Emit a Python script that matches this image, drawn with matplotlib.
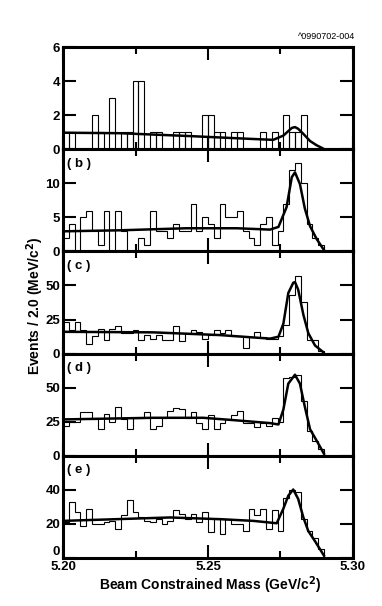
import numpy as np
import matplotlib.pyplot as plt

plt.rcParams['font.family'] = ['Liberation Sans Narrow', 'Liberation Sans', 'DejaVu Sans']
plt.rcParams['font.weight'] = 'bold'

# 2 MeV bins from 5.20 to 5.30 GeV
edges = np.linspace(5.20, 5.30, 51)

counts_a = [1, 1, 0, 0, 0, 2, 1, 0, 3, 0, 1, 1, 4, 4, 0, 1, 1, 0, 0, 1,
            1, 1, 0, 0, 2, 2, 1, 1, 0, 1, 1, 0, 0, 0, 1, 0, 1, 0, 2, 1,
            1, 2, 0, 0, 0, 0, 0, 0, 0, 0]
counts_b = [2, 4, 0, 5, 6, 3, 1, 6, 0, 6, 3, 0, 0, 2, 1, 6, 3, 3, 2, 4,
            3, 3, 7, 3, 5, 4, 2, 7, 5, 5, 6, 3, 2, 1, 4, 5, 1, 3, 7, 12,
            13, 10, 4, 2, 1, 0, 0, 0, 0, 0]
counts_c = [23, 17, 23, 17, 7, 13, 18, 10, 18, 20, 15, 15, 17, 10, 14, 11, 14, 10, 10, 20,
            9, 15, 17, 16, 11, 14, 17, 15, 17, 13, 13, 4, 12, 16, 12, 11, 11, 13, 21, 43,
            57, 38, 10, 10, 2, 0, 0, 0, 0, 0]
counts_d = [22, 25, 25, 32, 32, 27, 20, 31, 25, 36, 27, 20, 28, 28, 32, 20, 22, 28, 33, 35,
            34, 28, 32, 24, 20, 30, 20, 24, 27, 30, 33, 24, 24, 21, 24, 22, 28, 25, 57, 58,
            59, 40, 18, 11, 5, 0, 0, 0, 0, 0]
counts_e = [21, 33, 27, 19, 29, 20, 20, 21, 22, 17, 25, 34, 27, 24, 22, 21, 23, 20, 22, 28,
            26, 23, 26, 21, 27, 15, 23, 14, 23, 20, 20, 16, 29, 25, 29, 17, 28, 16, 35, 40,
            39, 23, 16, 12, 5, 0, 0, 0, 0, 0]

# fit curves
fit_x_a = [5.200, 5.2197, 5.2426, 5.2656, 5.2725, 5.2760, 5.2789, 5.2800, 5.2811, 5.2829, 5.2852, 5.2875, 5.2898]
fit_y_a = [0.97, 0.94, 0.78, 0.60, 0.55, 0.80, 1.25, 1.30, 1.20, 0.90, 0.48, 0.23, 0.03]
fit_x_b = [5.200, 5.2197, 5.2426, 5.2599, 5.2714, 5.2743, 5.2771, 5.2789, 5.2800, 5.2817, 5.2834, 5.2852, 5.2875, 5.2900]
fit_y_b = [2.95, 3.1, 3.4, 3.4, 3.2, 3.6, 6.5, 10.9, 11.6, 9.9, 6.3, 3.7, 1.8, 0.2]
fit_x_c = [5.200, 5.2311, 5.2541, 5.2714, 5.2743, 5.2760, 5.2777, 5.2794, 5.2800, 5.2811, 5.2829, 5.2846, 5.2869, 5.2898]
fit_y_c = [16, 15.6, 13.6, 11, 12.4, 22, 44.5, 52, 52.5, 47, 28.5, 15, 6, 1]
fit_x_d = [5.200, 5.2311, 5.2484, 5.2599, 5.2714, 5.2743, 5.2760, 5.2777, 5.2800, 5.2817, 5.2834, 5.2852, 5.2875, 5.2900]
fit_y_d = [26.7, 27.9, 27.9, 26, 24, 23, 34, 53, 59.5, 53, 36, 19.5, 11, 1.5]
fit_x_e = [5.200, 5.2369, 5.2541, 5.2656, 5.2737, 5.2760, 5.2777, 5.2794, 5.2811, 5.2829, 5.2846, 5.2869, 5.2900]
fit_y_e = [21.8, 23.8, 22.8, 21.8, 20.4, 29, 36.6, 40.2, 34.7, 23.8, 15.8, 9.9, 1.4]

panel_labels = ['', '( b )', '( c )', '( d )', '( e )']
ylims = [6, 15, 75, 75, 60]
yticks = [[0, 2, 4, 6], [0, 5, 10], [0, 25, 50], [0, 25, 50], [0, 20, 40]]

counts = [counts_a, counts_b, counts_c, counts_d, counts_e]
fits = [(fit_x_a, fit_y_a), (fit_x_b, fit_y_b), (fit_x_c, fit_y_c),
        (fit_x_d, fit_y_d), (fit_x_e, fit_y_e)]

fig = plt.figure(figsize=(3.82, 6.06), dpi=100)
axes = fig.subplots(5, 1, sharex=True)
fig.subplots_adjust(left=0.165, right=0.924, top=0.9224, bottom=0.0792, hspace=0)

centers = (edges[:-1] + edges[1:]) / 2
for i, ax in enumerate(axes):
    c = np.array(counts[i])
    if i == 0:
        nz = c > 0
        ax.bar(centers[nz], c[nz], width=edges[1] - edges[0], fill=False,
               edgecolor='k', linewidth=0.8)
    else:
        ax.stairs(c, edges, color='k', linewidth=0.8, baseline=0)
    ax.plot(fits[i][0], fits[i][1], 'k-', linewidth=1.8)

    ax.set_xlim(5.20, 5.30)
    ax.set_ylim(0, ylims[i])
    ax.set_yticks(yticks[i])
    ax.set_xticks([5.20, 5.25, 5.30])
    ax.set_xticks([5.225, 5.275], minor=True)
    ax.set_xticklabels(['5.20', '5.25', '5.30'])
    ax.tick_params(which='both', direction='in', top=True, right=True, width=1.5,
                   labelsize=9.5, pad=2)
    ax.tick_params(which='major', length=9.5)
    ax.tick_params(which='minor', length=5)
    for s in ax.spines.values():
        s.set_linewidth(2.2)
    if panel_labels[i]:
        ax.text(0.014, 0.86, panel_labels[i], transform=ax.transAxes,
                fontsize=9.5, fontweight='bold', va='center', ha='left')

# bottom panel's zero sits just above the axis line
axes[-1].get_yticklabels()[0].set_verticalalignment('bottom')

fig.text(35 / 382, 1 - 306 / 606, 'Events / 2.0 (MeV/c$^2$)', rotation=90,
         ha='center', va='center', fontsize=10, fontweight='bold')
fig.text(210 / 382, 1 - 585 / 606, 'Beam Constrained Mass (GeV/c$^2$)',
         ha='center', va='center', fontsize=10, fontweight='bold')
fig.text(355 / 382, 1 - 39 / 606, '^0990702-004', ha='right', va='baseline',
         fontsize=6.5, fontweight='normal')

fig.savefig('out.png', dpi=100)
